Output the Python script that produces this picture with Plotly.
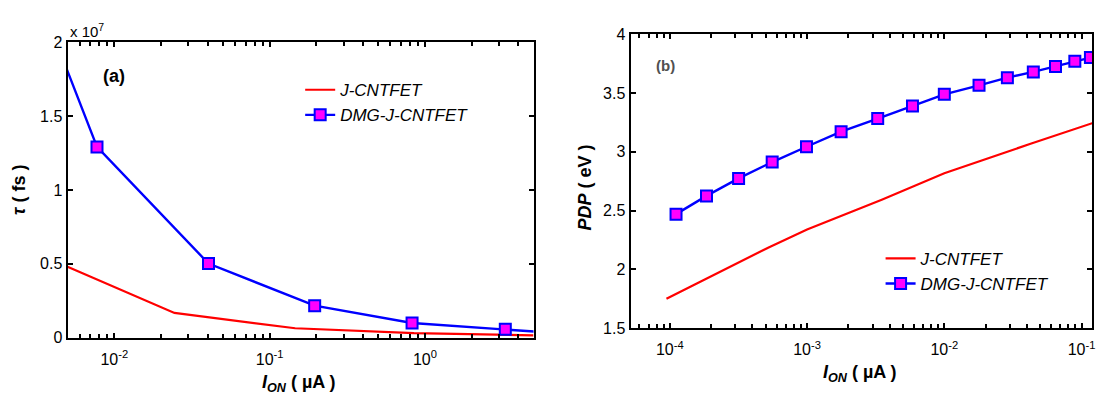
import plotly.graph_objects as go

# ---------------- data ----------------
# Panel (a): delay tau (fs) vs I_ON (uA)
a_j_ion = [0.005, 0.0244, 0.146, 0.85, 5.0]
a_j_tau = [0.48e7, 0.167e7, 0.063e7, 0.030e7, 0.015e7]
a_dmg_ion = [0.0045, 0.00774, 0.0404, 0.195, 0.826, 3.29, 12.0]
a_dmg_tau = [1.93e7, 1.292e7, 0.502e7, 0.216e7, 0.099e7, 0.056e7, 0.013e7]

# Panel (b): PDP (eV) vs I_ON (uA)
b_j_ion = [9.45e-5, 1.8e-4, 5.2e-4, 1.0e-3, 3.5e-3, 1.0e-2, 2.7e-2, 4.25e-2, 0.121]
b_j_pdp = [1.751, 1.914, 2.185, 2.34, 2.593, 2.818, 2.994, 3.068, 3.245]
b_dmg_ion = [1.11e-4, 1.85e-4, 3.17e-4, 5.57e-4, 9.9e-4, 1.77e-3, 3.27e-3, 5.86e-3,
             1.0e-2, 1.79e-2, 2.88e-2, 4.45e-2, 6.46e-2, 8.93e-2, 0.116]
b_dmg_pdp = [2.47, 2.625, 2.774, 2.913, 3.043, 3.171, 3.283, 3.389,
             3.489, 3.565, 3.630, 3.679, 3.725, 3.769, 3.801]

series_names = ["J-CNTFET", "DMG-J-CNTFET"]

a_xtickvals = [0.01, 0.1, 1]
a_xticktext = ["10<sup>-2</sup>", "10<sup>-1</sup>", "10<sup>0</sup>"]
a_ytickvals = [0, 0.5e7, 1e7, 1.5e7, 2e7]
a_yticktext = ["0", "0.5", "1", "1.5", "2"]
b_xtickvals = [1e-4, 1e-3, 1e-2, 1e-1]
b_xticktext = ["10<sup>-4</sup>", "10<sup>-3</sup>", "10<sup>-2</sup>", "10<sup>-1</sup>"]
b_ytickvals = [1.5, 2, 2.5, 3, 3.5, 4]
b_yticktext = ["1.5", "2", "2.5", "3", "3.5", "4"]

a_minor_decades = [-3, -2, -1, 0]
b_minor_decades = [-5, -4, -3, -2, -1]
minor_digits = [2, 3, 4, 5, 6, 7, 8, 9]

# ---------------- style ----------------
W, H = 1097, 405
FONT = "Liberation Sans, Arial, sans-serif"
RED = "#FF0000"
BLUE = "#0000FF"
MAG = "#FF00FF"

def px_x(p):
    return p / W

def px_y(p):
    return (H - p) / H

A_XRANGE = [-2.30103, 0.69897]
B_XRANGE = [-4.286, -0.924]
A_XDOM = [px_x(67.7), px_x(535)]
B_XDOM = [px_x(632.3), px_x(1095)]

fig = go.Figure()

fig.add_trace(go.Scatter(x=a_j_ion, y=a_j_tau, mode="lines", name=series_names[0],
                         line=dict(color=RED, width=2.2), xaxis="x", yaxis="y",
                         legend="legend"))
fig.add_trace(go.Scatter(x=a_dmg_ion, y=a_dmg_tau, mode="lines+markers", name=series_names[1],
                         line=dict(color=BLUE, width=2.4),
                         marker=dict(symbol="square", size=11, color=MAG,
                                     line=dict(color=BLUE, width=2)),
                         xaxis="x", yaxis="y", legend="legend"))
fig.add_trace(go.Scatter(x=b_j_ion, y=b_j_pdp, mode="lines", name=series_names[0],
                         line=dict(color=RED, width=2.2), xaxis="x2", yaxis="y2",
                         legend="legend2"))
fig.add_trace(go.Scatter(x=b_dmg_ion, y=b_dmg_pdp, mode="lines+markers", name=series_names[1],
                         line=dict(color=BLUE, width=2.4),
                         marker=dict(symbol="square", size=11, color=MAG,
                                     line=dict(color=BLUE, width=2)),
                         xaxis="x2", yaxis="y2", legend="legend2"))

# invisible traces that carry the minor-tick overlay axes
fig.add_trace(go.Scatter(x=[a_j_ion[0]], y=[a_j_tau[0]], mode="markers", opacity=0,
                         showlegend=False, hoverinfo="skip", xaxis="x3", yaxis="y"))
fig.add_trace(go.Scatter(x=[b_j_ion[0]], y=[b_j_pdp[0]], mode="markers", opacity=0,
                         showlegend=False, hoverinfo="skip", xaxis="x4", yaxis="y2"))

axis_common = dict(showline=True, linecolor="black", linewidth=2, mirror="ticks",
                   ticks="inside", ticklen=5, tickwidth=1.5, tickcolor="black",
                   showgrid=False, zeroline=False,
                   tickfont=dict(family=FONT, size=16, color="black"))

def minor_axis(decades, rng, overlay, anchor):
    vals = [d * 10.0 ** e for e in decades for d in minor_digits]
    return dict(type="log", range=rng, overlaying=overlay, anchor=anchor, side="bottom",
                tickmode="array", tickvals=vals, showticklabels=False,
                ticks="inside", ticklen=4, tickwidth=2, tickcolor="black",
                showline=True, linecolor="black", linewidth=2, mirror="ticks",
                showgrid=False, zeroline=False)

fig.update_layout(
    width=W, height=H,
    margin=dict(l=0, r=0, t=0, b=0),
    paper_bgcolor="white", plot_bgcolor="white",
    showlegend=True,
    xaxis=dict(type="log", range=A_XRANGE, domain=A_XDOM, anchor="y",
               tickmode="array", tickvals=a_xtickvals, ticktext=a_xticktext,
               ticklabelstandoff=6, ticklabeloverflow="allow", **axis_common),
    yaxis=dict(range=[0, 2e7], domain=[px_y(344), px_y(36)], anchor="x",
               tickmode="array", tickvals=a_ytickvals, ticktext=a_yticktext,
               ticklabeloverflow="allow", **axis_common),
    xaxis2=dict(type="log", range=B_XRANGE, domain=B_XDOM, anchor="y2",
                tickmode="array", tickvals=b_xtickvals, ticktext=b_xticktext,
                ticklabelstandoff=6, ticklabeloverflow="allow", **axis_common),
    yaxis2=dict(range=[1.5, 4], domain=[px_y(334.3), px_y(27.3)], anchor="x2",
                tickmode="array", tickvals=b_ytickvals, ticktext=b_yticktext,
                ticklabeloverflow="allow", **axis_common),
    xaxis3=minor_axis(a_minor_decades, A_XRANGE, "x", "y"),
    xaxis4=minor_axis(b_minor_decades, B_XRANGE, "x2", "y2"),
    legend=dict(x=px_x(301), y=px_y(67), xanchor="left", yanchor="top",
                bgcolor="rgba(0,0,0,0)", borderwidth=0,
                font=dict(family=FONT, size=17, color="black", style="italic")),
    legend2=dict(x=px_x(883), y=px_y(243), xanchor="left", yanchor="top",
                 bgcolor="rgba(0,0,0,0)", borderwidth=0,
                 font=dict(family=FONT, size=17, color="black", style="italic")),
)

ann_font = dict(family=FONT, size=18, color="black", weight="bold")
annotations = [
    dict(text="<i>τ</i> ( fs )", x=px_x(19), y=px_y(190), textangle=-90,
         font=ann_font),
    dict(text="<i>I<sub>ON</sub></i> ( µA )", x=px_x(300), y=px_y(392),
         font=ann_font),
    dict(text="<i>PDP</i> ( eV )", x=px_x(587), y=px_y(187), textangle=-90,
         font=ann_font),
    dict(text="<i>I<sub>ON</sub></i> ( µA )", x=px_x(862), y=px_y(382),
         font=ann_font),
    dict(text="x 10<sup>7</sup>", x=px_x(87), y=px_y(24),
         font=dict(family=FONT, size=15, color="black")),
    dict(text="(a)", x=px_x(114), y=px_y(71),
         font=dict(family=FONT, size=18, color="black", weight="bold")),
    dict(text="(b)", x=px_x(667), y=px_y(60),
         font=dict(family=FONT, size=15, color="#505050", weight="bold")),
]
for a in annotations:
    a.update(xref="paper", yref="paper", showarrow=False, xanchor="center", yanchor="middle")
fig.update_layout(annotations=annotations)

fig.write_html("out.html", config={"displayModeBar": False},
               post_script="document.body.style.margin='0';")
